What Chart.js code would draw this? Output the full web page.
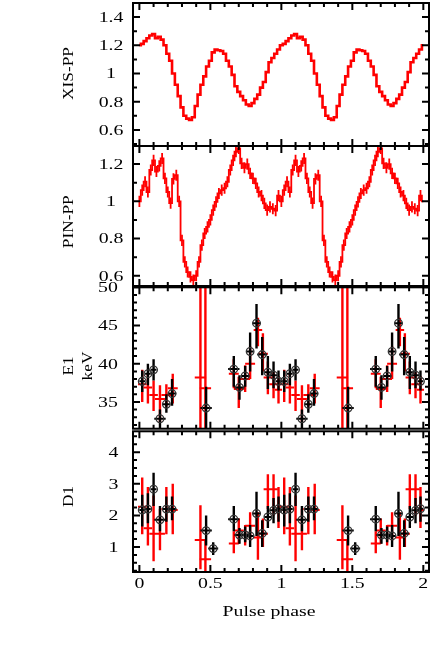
<!DOCTYPE html>
<html>
<head>
<meta charset="utf-8">
<script src="https://cdn.jsdelivr.net/npm/chart.js@4.4.1/dist/chart.umd.min.js"></script>
<style>
  body { margin: 0; background: #fff; }
  #wrap { position: relative; width: 436px; height: 654px; }
  #wrap canvas { position: absolute; left: 0; }
</style>
</head>
<body>
<div id="wrap">
  <canvas id="xis"></canvas>
  <canvas id="pin"></canvas>
  <canvas id="e1"></canvas>
  <canvas id="d1"></canvas>
</div>
<script>
// ---- data (one pulse cycle, plotted twice) ----
const binPhase = [0, 0.02, 0.04, 0.06, 0.08, 0.10, 0.12, 0.14, 0.16, 0.18,
  0.20, 0.22, 0.24, 0.26, 0.28, 0.30, 0.32, 0.34, 0.36, 0.38,
  0.40, 0.42, 0.44, 0.46, 0.48, 0.50, 0.52, 0.54, 0.56, 0.58,
  0.60, 0.62, 0.64, 0.66, 0.68, 0.70, 0.72, 0.74, 0.76, 0.78,
  0.80, 0.82, 0.84, 0.86, 0.88, 0.90, 0.92, 0.94, 0.96, 0.98];

const xisRate = [1.20, 1.21, 1.23, 1.25, 1.27, 1.28, 1.25, 1.26, 1.24, 1.20,
  1.14, 1.09, 1.00, 0.92, 0.84, 0.76, 0.70, 0.68, 0.67, 0.69,
  0.77, 0.85, 0.92, 0.98, 1.05, 1.09, 1.15, 1.17, 1.165, 1.16,
  1.14, 1.09, 1.05, 0.99, 0.91, 0.87, 0.84, 0.81, 0.78, 0.77,
  0.79, 0.82, 0.85, 0.90, 0.94, 1.01, 1.08, 1.11, 1.14, 1.17];

const pinRate = [1.00, 1.06, 1.105, 1.05, 1.168, 1.22, 1.16, 1.19, 1.23, 1.123,
  1.05, 0.99, 1.12, 1.14, 1.00, 0.79, 0.675, 0.62, 0.594, 0.577,
  0.60, 0.675, 0.765, 0.827, 0.863, 0.90, 0.953, 0.997, 1.042, 1.06,
  1.07, 1.105, 1.168, 1.22, 1.266, 1.284, 1.204, 1.18, 1.20, 1.15,
  1.123, 1.096, 1.05, 1.03, 0.989, 0.953, 0.97, 0.96, 0.95, 1.03];
const pinErr = 0.03;

// spectral fit parameters, black = model 1 (circles), red = model 2
const blackPhase = [0.02, 0.06, 0.10, 0.145, 0.19, 0.23, 0.47, 0.52, 0.665, 0.705, 0.745, 0.78, 0.825, 0.865, 0.905, 0.945, 0.98];
const blackHalfWidth = [0.02, 0.02, 0.02, 0.04, 0.025, 0.03, 0.04, 0.035, 0.04, 0.035, 0.03, 0.025, 0.03, 0.035, 0.025, 0.025, 0.02];
const blackE1 = [37.7, 38.7, 39.2, 32.8, 34.7, 36.1, 34.2, null, 39.3, 36.9, 38.4, 41.6, 45.3, 41.2, 38.9, 38.5, 37.7];
const blackE1Lo = [36.3, 37.2, 37.8, 31.0, 33.6, 34.5, 31.0, null, 37.0, 35.3, 37.0, 39.0, 42.0, 38.5, 36.7, 36.8, 36.5];
const blackE1Hi = [39.1, 40.0, 40.6, 34.0, 36.0, 38.0, 37.0, null, 41.0, 38.5, 39.7, 44.1, 47.8, 43.5, 41.0, 40.3, 39.1];
const blackD1 = [2.17, 2.2, 2.83, 1.86, 2.2, 2.2, 1.52, 0.95, 1.88, 1.38, 1.38, 1.35, 2.06, 1.43, 1.95, 2.16, 2.21];
const blackD1Lo = [1.65, 1.75, 2.3, 1.5, 1.8, 1.85, 1.05, 0.75, 1.5, 1.1, 1.15, 1.0, 1.35, 1.0, 1.6, 1.75, 1.8];
const blackD1Hi = [2.65, 2.7, 3.35, 2.3, 2.6, 2.6, 2.0, 1.15, 2.3, 1.6, 1.65, 1.7, 2.75, 1.85, 2.3, 2.55, 2.6];

const redPhase = [0.02, 0.06, 0.10, 0.145, 0.19, 0.235, 0.43, 0.465, 0.665, 0.70, 0.745, 0.78, 0.835, 0.87, 0.905, 0.945, 0.98];
const redHalfWidth = [0.03, 0.03, 0.03, 0.035, 0.035, 0.035, 0.04, 0.04, 0.035, 0.035, 0.035, 0.035, 0.03, 0.035, 0.03, 0.03, 0.025];
const redE1 = [37.3, 36.9, 35.9, 35.4, 35.9, 36.8, 38.2, 36.8, 38.7, 36.7, 38.0, 40.0, 44.4, 41.3, 38.2, 37.3, 36.6];
const redE1Lo = [35.0, 34.8, 33.8, 32.3, 34.4, 34.8, 31.0, 31.0, 36.8, 34.2, 36.3, 38.0, 42.3, 39.0, 36.0, 35.5, 34.8];
const redE1Hi = [39.2, 38.8, 37.8, 37.2, 37.3, 38.7, 60, 60, 40.6, 38.3, 39.8, 42.3, 46.0, 44.0, 40.3, 38.9, 38.4];
const redD1 = [2.27, 1.59, 1.42, 1.42, 2.2, 2.17, 1.22, 0.61, 1.11, 1.52, 1.38, 1.67, 1.3, 1.42, 2.83, 2.83, 2.17];
const redD1Lo = [1.4, 1.05, 0.55, 0.9, 1.4, 1.4, 0.3, 0.1, 0.8, 1.1, 1.05, 1.2, 0.6, 1.0, 2.2, 2.0, 1.6];
const redD1Hi = [3.2, 2.9, 2.63, 2.2, 2.9, 3.0, 2.32, 1.2, 1.5, 1.9, 1.7, 2.1, 2.1, 1.9, 3.3, 3.3, 2.9];

const xTickLabels = ['0', '0.5', '1', '1.5', '2'];
const xisTicks = ['0.6', '0.8', '1', '1.2', '1.4'];
const pinTicks = ['0.6', '0.8', '1', '1.2'];
const e1Ticks = ['35', '40', '45', '50'];
const d1Ticks = ['1', '2', '3', '4'];

const RED = '#ff0000';
const FONT = '15px "Liberation Serif", "DejaVu Serif", serif';

// ---- helpers to turn the arrays into chart points ----
function profile(vals) {
  const out = [];
  for (let k = 0; k < 2; k++) {
    binPhase.forEach((p, i) => out.push({ x: p + k, y: vals[i] }));
  }
  out.push({ x: 2, y: vals[0] });
  return out;
}

function vBars(ph, lo, hi) {
  const out = [];
  for (let k = 0; k < 2; k++) {
    ph.forEach((p, i) => {
      if (lo[i] == null) return;
      out.push({ x: p + k, y: lo[i] }, { x: p + k, y: hi[i] }, { x: p + k, y: null });
    });
  }
  return out;
}

function hBars(ph, dx, val) {
  const out = [];
  for (let k = 0; k < 2; k++) {
    ph.forEach((p, i) => {
      if (val[i] == null) return;
      out.push({ x: p + k - dx[i], y: val[i] }, { x: p + k + dx[i], y: val[i] }, { x: p + k, y: null });
    });
  }
  return out;
}

function centres(ph, val) {
  const out = [];
  for (let k = 0; k < 2; k++) {
    ph.forEach((p, i) => { if (val[i] != null) out.push({ x: p + k, y: val[i] }); });
  }
  return out;
}

function segs(data, color, width) {
  return { data: data, showLine: true, spanGaps: false, borderColor: color, borderWidth: width, pointRadius: 0 };
}

function stretched(ctx, txt, x, y, rot, sx) {
  ctx.save();
  ctx.translate(x, y);
  ctx.rotate(rot);
  ctx.scale(sx, 1);
  ctx.fillText(txt, 0, 0);
  ctx.restore();
}

// frame, inward ticks on all sides, labels and titles
const framePlugin = {
  id: 'frame',
  afterDraw(chart, args, o) {
    const { ctx, chartArea: a } = chart;
    const x = chart.scales.x, y = chart.scales.y;
    ctx.save();
    ctx.strokeStyle = '#000';
    ctx.lineWidth = 2;
    ctx.beginPath();
    for (let i = Math.ceil(x.min * 10); i <= Math.floor(x.max * 10); i++) {
      const px = x.getPixelForValue(i / 10);
      const len = i % 5 === 0 ? 7 : 4;
      ctx.moveTo(px, a.bottom); ctx.lineTo(px, a.bottom - len);
      ctx.moveTo(px, a.top); ctx.lineTo(px, a.top + len);
    }
    const n0 = Math.ceil(y.min / o.minor - 1e-6), n1 = Math.floor(y.max / o.minor + 1e-6);
    for (let i = n0; i <= n1; i++) {
      const v = i * o.minor;
      const py = y.getPixelForValue(v);
      const major = o.labels.some(l => Math.abs(parseFloat(l) - v) < 1e-6);
      const len = major ? 7 : 4;
      ctx.moveTo(a.left, py); ctx.lineTo(a.left + len, py);
      ctx.moveTo(a.right, py); ctx.lineTo(a.right - len, py);
    }
    ctx.stroke();
    ctx.strokeRect(a.left, a.top, a.right - a.left, a.bottom - a.top);

    ctx.fillStyle = '#000';
    ctx.font = FONT;
    ctx.textAlign = 'center';
    ctx.textBaseline = 'middle';
    o.labels.forEach(l => stretched(ctx, l, o.labelX, y.getPixelForValue(parseFloat(l)) + 1, 0, 1.32));
    o.titles.forEach(t => stretched(ctx, t.text, t.x, y.getPixelForValue(t.v), -Math.PI / 2, 1.15));
    if (o.xLabels) {
      xTickLabels.forEach(l => stretched(ctx, l, x.getPixelForValue(parseFloat(l)), a.bottom + 12, 0, 1.32));
      ctx.textBaseline = 'alphabetic';
      stretched(ctx, 'Pulse phase', 269, a.bottom + 44, 0, 1.32);
    }
    ctx.restore();
  }
};

function makePanel(id, top, bottom, padBottom, yMin, yMax, datasets, frame) {
  const canvas = document.getElementById(id);
  const padTop = 4;
  canvas.width = 436;
  canvas.height = bottom - top + padTop + padBottom;
  canvas.style.top = (top - padTop) + 'px';
  return new Chart(canvas.getContext('2d'), {
    type: 'scatter',
    data: { datasets: datasets },
    options: {
      responsive: false,
      animation: false,
      devicePixelRatio: 1,
      layout: { padding: { left: 133, right: 7, top: padTop, bottom: padBottom } },
      scales: {
        x: { type: 'linear', min: -0.045, max: 2.04, display: false },
        y: { type: 'linear', min: yMin, max: yMax, display: false }
      },
      plugins: { legend: { display: false }, tooltip: { enabled: false }, frame: frame }
    },
    plugins: [framePlugin]
  });
}

// XIS pulse profile
makePanel('xis', 3, 146, 4, 0.486, 1.5, [
  Object.assign(segs(profile(xisRate), RED, 2.6), { stepped: 'middle' })
], { minor: 0.1, labels: xisTicks, labelX: 111, titles: [{ text: 'XIS-PP', x: 69, v: 1.0 }] });

// PIN pulse profile with error bars
makePanel('pin', 146, 286, 4, 0.545, 1.297, [
  Object.assign(segs(profile(pinRate), RED, 1.8), { stepped: 'middle' }),
  segs(vBars(binPhase, pinRate.map(v => v - pinErr), pinRate.map(v => v + pinErr)), RED, 1.8)
], { minor: 0.1, labels: pinTicks, labelX: 111, titles: [{ text: 'PIN-PP', x: 69, v: 0.89 }] });

function fitDatasets(bVal, bLo, bHi, rVal, rLo, rHi) {
  return [
    {
      data: centres(blackPhase, bVal), pointRadius: 3.8, pointStyle: 'circle',
      pointBorderColor: '#333', pointBackgroundColor: 'rgba(0,0,0,0)', pointBorderWidth: 1.3, showLine: false
    },
    segs(hBars(blackPhase, blackHalfWidth, bVal), '#000', 2),
    segs(vBars(blackPhase, bLo, bHi), '#000', 2.4),
    segs(hBars(redPhase, redHalfWidth, rVal), RED, 2),
    segs(vBars(redPhase, rLo, rHi), RED, 2.4)
  ];
}

// line energy
makePanel('e1', 286, 430, 4, 31.5, 50,
  fitDatasets(blackE1, blackE1Lo, blackE1Hi, redE1, redE1Lo, redE1Hi),
  { minor: 1, labels: e1Ticks, labelX: 108, titles: [{ text: 'E1', x: 69, v: 39.7 }, { text: 'keV', x: 88, v: 39.7 }] });

// line depth, with the phase axis
makePanel('d1', 430, 572, 654 - 572, 0.21, 4.66,
  fitDatasets(blackD1, blackD1Lo, blackD1Hi, redD1, redD1Lo, redD1Hi),
  { minor: 0.25, labels: d1Ticks, labelX: 113.5, titles: [{ text: 'D1', x: 69, v: 2.6 }], xLabels: true });
</script>
</body>
</html>
